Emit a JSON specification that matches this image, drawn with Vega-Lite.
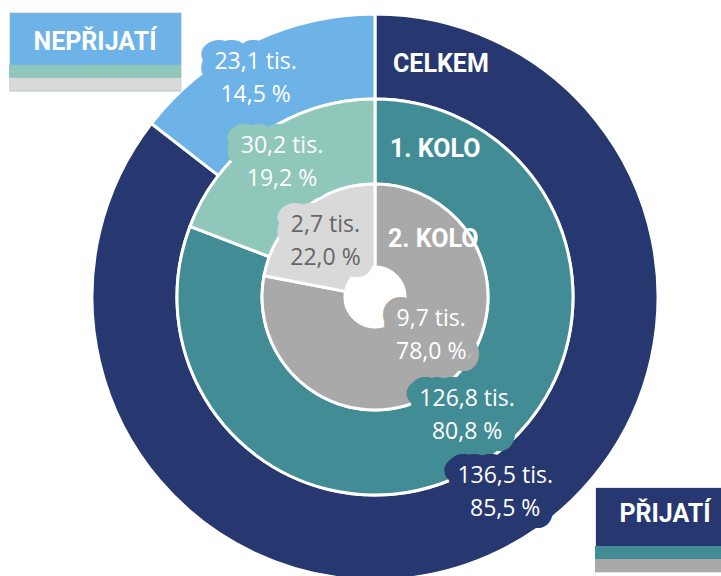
{
  "$schema": "https://vega.github.io/schema/vega-lite/v6.json",
  "width": 692,
  "height": 558,
  "autosize": {"type": "none"},
  "padding": {"left": 29, "top": 18, "right": 0, "bottom": 0},
  "background": "white",
  "config": {"view": {"stroke": null}, "font": "Roboto"},
  "data": {"values": [
    {"ring": "CELKEM", "status": "přijatí", "tis": 136.5, "pct": 85.5, "label": "136,5 tis.\n85,5 %"},
    {"ring": "CELKEM", "status": "nepřijatí", "tis": 23.1, "pct": 14.5, "label": "23,1 tis.\n14,5 %"},
    {"ring": "1. KOLO", "status": "přijatí", "tis": 126.8, "pct": 80.8, "label": "126,8 tis.\n80,8 %"},
    {"ring": "1. KOLO", "status": "nepřijatí", "tis": 30.2, "pct": 19.2, "label": "30,2 tis.\n19,2 %"},
    {"ring": "2. KOLO", "status": "přijatí", "tis": 9.7, "pct": 78.0, "label": "9,7 tis.\n78,0 %"},
    {"ring": "2. KOLO", "status": "nepřijatí", "tis": 2.7, "pct": 22.0, "label": "2,7 tis.\n22,0 %"}
  ]},
  "layer": [
    {
      "transform": [{"filter": "datum.ring === 'CELKEM' && datum.status === 'přijatí'"}],
      "mark": {"type": "arc", "outerRadius": 283, "innerRadius": 198, "stroke": "white", "strokeWidth": 3},
      "encoding": {
        "theta": {"field": "pct", "type": "quantitative", "stack": true, "scale": {"domain": [0, 100], "range": [0, 6.283185307179586]}},
        "color": {"field": "ring", "type": "nominal",
          "scale": {"domain": ["CELKEM", "1. KOLO", "2. KOLO"], "range": ["#27376F", "#428C95", "#A9A9A9"]},
          "legend": {
            "orient": "none", "legendX": 566, "legendY": 469,
            "title": ["", "PŘIJATÍ"],
            "titleFont": "Roboto", "titleFontSize": 25, "titleFontWeight": "bold", "titleColor": "white",
            "titleAnchor": "middle", "titleLineHeight": 15, "titlePadding": 19,
            "fillColor": "#27376F", "padding": 0, "strokeColor": "#e4e4e4",
            "values": ["1. KOLO", "2. KOLO"],
            "symbolType": "M-1,-1H20.6V1H-1Z", "symbolSize": 169, "symbolStrokeWidth": 0, "symbolOpacity": 1,
            "labelExpr": "''", "labelFontSize": 1, "labelOffset": 0, "rowPadding": 0, "symbolOffset": 0
          }
        }
      }
    },
    {
      "transform": [{"filter": "datum.ring === 'CELKEM' && datum.status === 'nepřijatí'"}],
      "mark": {"type": "arc", "outerRadius": 283, "innerRadius": 198, "stroke": "white", "strokeWidth": 3},
      "encoding": {
        "theta": {"field": "pct", "type": "quantitative", "stack": true, "scale": {"domain": [0, 100], "range": [6.283185307179586, 0]}},
        "fill": {"field": "ring", "type": "nominal",
          "scale": {"domain": ["CELKEM", "2. KOLO", "1. KOLO"], "range": ["#6DB3E8", "#D9D9D9", "#8FC7BA"]},
          "legend": {
            "orient": "none", "legendX": -20, "legendY": -6,
            "title": ["", "NEPŘIJATÍ"],
            "titleFont": "Roboto", "titleFontSize": 25, "titleFontWeight": "bold", "titleColor": "white",
            "titleAnchor": "middle", "titleLineHeight": 17.7, "titlePadding": 10,
            "fillColor": "#6DB3E8", "padding": 0, "strokeColor": "#e4e4e4",
            "values": ["1. KOLO", "2. KOLO"],
            "symbolType": "M-1,-1H25.46V1H-1Z", "symbolSize": 169, "symbolStrokeWidth": 0, "symbolOpacity": 1,
            "labelExpr": "''", "labelFontSize": 1, "labelOffset": 0, "rowPadding": 0, "symbolOffset": 0
          }
        }
      }
    },
    {
      "transform": [{"filter": "datum.ring === '1. KOLO' && datum.status === 'přijatí'"}],
      "mark": {"type": "arc", "outerRadius": 198, "innerRadius": 113, "stroke": "white", "strokeWidth": 3},
      "encoding": {
        "theta": {"field": "pct", "type": "quantitative", "stack": true, "scale": {"domain": [0, 100], "range": [0, 6.283185307179586]}},
        "color": {"field": "ring", "type": "nominal", "scale": {"domain": ["CELKEM", "1. KOLO", "2. KOLO"], "range": ["#27376F", "#428C95", "#A9A9A9"]}}
      }
    },
    {
      "transform": [{"filter": "datum.ring === '1. KOLO' && datum.status === 'nepřijatí'"}],
      "mark": {"type": "arc", "outerRadius": 198, "innerRadius": 113, "stroke": "white", "strokeWidth": 3},
      "encoding": {
        "theta": {"field": "pct", "type": "quantitative", "stack": true, "scale": {"domain": [0, 100], "range": [6.283185307179586, 0]}},
        "fill": {"field": "ring", "type": "nominal", "scale": {"domain": ["CELKEM", "2. KOLO", "1. KOLO"], "range": ["#6DB3E8", "#D9D9D9", "#8FC7BA"]}}
      }
    },
    {
      "transform": [{"filter": "datum.ring === '2. KOLO' && datum.status === 'přijatí'"}],
      "mark": {"type": "arc", "outerRadius": 113, "innerRadius": 30, "stroke": "white", "strokeWidth": 3},
      "encoding": {
        "theta": {"field": "pct", "type": "quantitative", "stack": true, "scale": {"domain": [0, 100], "range": [0, 6.283185307179586]}},
        "color": {"field": "ring", "type": "nominal", "scale": {"domain": ["CELKEM", "1. KOLO", "2. KOLO"], "range": ["#27376F", "#428C95", "#A9A9A9"]}}
      }
    },
    {
      "transform": [{"filter": "datum.ring === '2. KOLO' && datum.status === 'nepřijatí'"}],
      "mark": {"type": "arc", "outerRadius": 113, "innerRadius": 30, "stroke": "white", "strokeWidth": 3},
      "encoding": {
        "theta": {"field": "pct", "type": "quantitative", "stack": true, "scale": {"domain": [0, 100], "range": [6.283185307179586, 0]}},
        "fill": {"field": "ring", "type": "nominal", "scale": {"domain": ["CELKEM", "2. KOLO", "1. KOLO"], "range": ["#6DB3E8", "#D9D9D9", "#8FC7BA"]}}
      }
    },
    {
      "transform": [{"filter": "datum.ring === 'CELKEM' && datum.status === 'nepřijatí'"}],
      "mark": {"type": "text", "radius": 244, "dx": -12, "dy": -16, "lineBreak": "\n", "font": "Open Sans", "fontSize": 23, "fontWeight": "bold", "lineHeight": 33, "fill": "#6DB3E8", "stroke": "#6DB3E8", "strokeWidth": 24, "strokeJoin": "round", "align": "center", "baseline": "middle"},
      "encoding": {
        "theta": {"field": "pct", "type": "quantitative", "stack": true, "scale": {"domain": [0, 100], "range": [6.283185307179586, 0]}},
        "text": {"field": "label"}
      }
    },
    {
      "transform": [{"filter": "datum.ring === '1. KOLO' && datum.status === 'nepřijatí'"}],
      "mark": {"type": "text", "radius": 164, "dx": 0, "dy": -16, "lineBreak": "\n", "font": "Open Sans", "fontSize": 23, "fontWeight": "bold", "lineHeight": 33, "fill": "#8FC7BA", "stroke": "#8FC7BA", "strokeWidth": 24, "strokeJoin": "round", "align": "center", "baseline": "middle"},
      "encoding": {
        "theta": {"field": "pct", "type": "quantitative", "stack": true, "scale": {"domain": [0, 100], "range": [6.283185307179586, 0]}},
        "text": {"field": "label"}
      }
    },
    {
      "transform": [{"filter": "datum.ring === '2. KOLO' && datum.status === 'nepřijatí'"}],
      "mark": {"type": "text", "radius": 73, "dx": -3, "dy": -16, "lineBreak": "\n", "font": "Open Sans", "fontSize": 23, "fontWeight": "bold", "lineHeight": 33, "fill": "#D9D9D9", "stroke": "#D9D9D9", "strokeWidth": 24, "strokeJoin": "round", "align": "center", "baseline": "middle"},
      "encoding": {
        "theta": {"field": "pct", "type": "quantitative", "stack": true, "scale": {"domain": [0, 100], "range": [6.283185307179586, 0]}},
        "text": {"field": "label"}
      }
    },
    {
      "transform": [{"filter": "datum.ring === '2. KOLO' && datum.status === 'přijatí'"}],
      "mark": {"type": "text", "radius": 60, "dx": 18, "dy": -24, "lineBreak": "\n", "font": "Open Sans", "fontSize": 23, "fontWeight": "bold", "lineHeight": 33, "fill": "#A9A9A9", "stroke": "#A9A9A9", "strokeWidth": 24, "strokeJoin": "round", "align": "center", "baseline": "middle"},
      "encoding": {
        "theta": {"field": "pct", "type": "quantitative", "stack": true, "scale": {"domain": [0, 100], "range": [0, 6.283185307179586]}},
        "text": {"field": "label"}
      }
    },
    {
      "transform": [{"filter": "datum.ring === '1. KOLO' && datum.status === 'přijatí'"}],
      "mark": {"type": "text", "radius": 150, "dx": 7, "dy": -22, "lineBreak": "\n", "font": "Open Sans", "fontSize": 23, "fontWeight": "bold", "lineHeight": 33, "fill": "#428C95", "stroke": "#428C95", "strokeWidth": 24, "strokeJoin": "round", "align": "center", "baseline": "middle"},
      "encoding": {
        "theta": {"field": "pct", "type": "quantitative", "stack": true, "scale": {"domain": [0, 100], "range": [0, 6.283185307179586]}},
        "text": {"field": "label"}
      }
    },
    {
      "transform": [{"filter": "datum.ring === 'CELKEM' && datum.status === 'přijatí'"}],
      "mark": {"type": "text", "radius": 230, "dx": 29, "dy": -28, "lineBreak": "\n", "font": "Open Sans", "fontSize": 23, "fontWeight": "bold", "lineHeight": 33, "fill": "#27376F", "stroke": "#27376F", "strokeWidth": 24, "strokeJoin": "round", "align": "center", "baseline": "middle"},
      "encoding": {
        "theta": {"field": "pct", "type": "quantitative", "stack": true, "scale": {"domain": [0, 100], "range": [0, 6.283185307179586]}},
        "text": {"field": "label"}
      }
    },
    {
      "transform": [{"filter": "datum.ring === 'CELKEM' && datum.status === 'přijatí'"}],
      "mark": {"type": "text", "radius": 230, "dx": 29, "dy": -28, "lineBreak": "\n", "font": "Open Sans", "fontSize": 23, "lineHeight": 33, "color": "white", "align": "center", "baseline": "middle"},
      "encoding": {
        "theta": {"field": "pct", "type": "quantitative", "stack": true, "scale": {"domain": [0, 100], "range": [0, 6.283185307179586]}},
        "text": {"field": "label"}
      }
    },
    {
      "transform": [{"filter": "datum.ring === 'CELKEM' && datum.status === 'nepřijatí'"}],
      "mark": {"type": "text", "radius": 244, "dx": -12, "dy": -16, "lineBreak": "\n", "font": "Open Sans", "fontSize": 23, "lineHeight": 33, "color": "white", "align": "center", "baseline": "middle"},
      "encoding": {
        "theta": {"field": "pct", "type": "quantitative", "stack": true, "scale": {"domain": [0, 100], "range": [6.283185307179586, 0]}},
        "text": {"field": "label"}
      }
    },
    {
      "transform": [{"filter": "datum.ring === '1. KOLO' && datum.status === 'přijatí'"}],
      "mark": {"type": "text", "radius": 150, "dx": 7, "dy": -22, "lineBreak": "\n", "font": "Open Sans", "fontSize": 23, "lineHeight": 33, "color": "white", "align": "center", "baseline": "middle"},
      "encoding": {
        "theta": {"field": "pct", "type": "quantitative", "stack": true, "scale": {"domain": [0, 100], "range": [0, 6.283185307179586]}},
        "text": {"field": "label"}
      }
    },
    {
      "transform": [{"filter": "datum.ring === '1. KOLO' && datum.status === 'nepřijatí'"}],
      "mark": {"type": "text", "radius": 164, "dx": 0, "dy": -16, "lineBreak": "\n", "font": "Open Sans", "fontSize": 23, "lineHeight": 33, "color": "white", "align": "center", "baseline": "middle"},
      "encoding": {
        "theta": {"field": "pct", "type": "quantitative", "stack": true, "scale": {"domain": [0, 100], "range": [6.283185307179586, 0]}},
        "text": {"field": "label"}
      }
    },
    {
      "transform": [{"filter": "datum.ring === '2. KOLO' && datum.status === 'přijatí'"}],
      "mark": {"type": "text", "radius": 60, "dx": 18, "dy": -24, "lineBreak": "\n", "font": "Open Sans", "fontSize": 23, "lineHeight": 33, "color": "white", "align": "center", "baseline": "middle"},
      "encoding": {
        "theta": {"field": "pct", "type": "quantitative", "stack": true, "scale": {"domain": [0, 100], "range": [0, 6.283185307179586]}},
        "text": {"field": "label"}
      }
    },
    {
      "transform": [{"filter": "datum.ring === '2. KOLO' && datum.status === 'nepřijatí'"}],
      "mark": {"type": "text", "radius": 73, "dx": -3, "dy": -16, "lineBreak": "\n", "font": "Open Sans", "fontSize": 23, "lineHeight": 33, "color": "#666666", "align": "center", "baseline": "middle"},
      "encoding": {
        "theta": {"field": "pct", "type": "quantitative", "stack": true, "scale": {"domain": [0, 100], "range": [6.283185307179586, 0]}},
        "text": {"field": "label"}
      }
    },
    {
      "transform": [{"filter": "datum.status === 'přijatí' && datum.ring === 'CELKEM'"}],
      "mark": {"type": "text", "theta": 0, "radius": 233, "dx": 18, "font": "Roboto", "fontSize": 25, "fontWeight": "bold", "color": "white", "align": "left", "baseline": "middle"},
      "encoding": {"text": {"field": "ring"}}
    },
    {
      "transform": [{"filter": "datum.status === 'přijatí' && datum.ring === '1. KOLO'"}],
      "mark": {"type": "text", "theta": 0, "radius": 148, "dx": 15, "font": "Roboto", "fontSize": 25, "fontWeight": "bold", "color": "white", "align": "left", "baseline": "middle"},
      "encoding": {"text": {"field": "ring"}}
    },
    {
      "transform": [{"filter": "datum.status === 'přijatí' && datum.ring === '2. KOLO'"}],
      "mark": {"type": "text", "theta": 0, "radius": 58, "dx": 13, "font": "Roboto", "fontSize": 25, "fontWeight": "bold", "color": "white", "align": "left", "baseline": "middle"},
      "encoding": {"text": {"field": "ring"}}
    }
  ],
  "resolve": {"scale": {"theta": "independent"}}
}
